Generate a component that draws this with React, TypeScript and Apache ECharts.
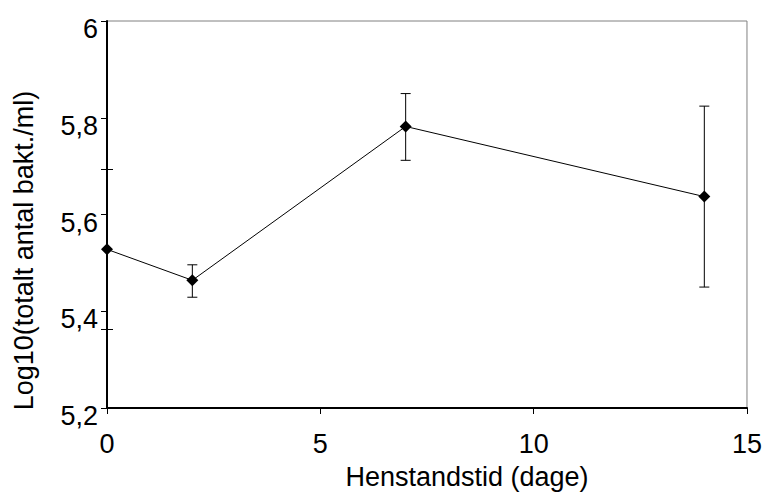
import React, { useEffect, useRef } from "react";
import * as echarts from "echarts";

// Storage time (days) and log10 total bacteria count per ml
const days = [0, 2, 7, 14];
const meanLog = [5.528, 5.464, 5.782, 5.637];
const upperLog = [5.528, 5.496, 5.85, 5.824];
const lowerLog = [5.528, 5.429, 5.712, 5.45];

const yTickLabels = [5.2, 5.4, 5.6, 5.8, 6];
const yExtraTicks = [5.362, 5.693];
const xTicks = [0, 5, 10, 15];

const FONT = "'Liberation Sans', Arial, sans-serif";
const FS = 27;

export default function App() {
  const ref = useRef<HTMLDivElement>(null);

  useEffect(() => {
    if (!ref.current) return;
    const chart = echarts.init(ref.current, undefined, { renderer: "svg" });

    const errorData = days.map((d, i) => [d, lowerLog[i], upperLog[i]]);

    chart.setOption({
      animation: false,
      backgroundColor: "#ffffff",
      grid: {
        left: 107,
        right: 8,
        top: 21,
        bottom: 89,
        show: true,
        borderColor: "#808080",
        borderWidth: 1,
      },
      xAxis: {
        type: "value",
        min: 0,
        max: 15,
        interval: 5,
        name: "Henstandstid (dage)",
        nameLocation: "middle",
        nameGap: 55,
        nameTextStyle: {
          fontFamily: FONT,
          fontSize: FS,
          color: "#000",
          padding: [0, 0, 0, 80],
        },
        axisLine: { show: true, lineStyle: { color: "#000", width: 2 } },
        axisTick: {
          show: true,
          inside: false,
          length: 6,
          lineStyle: { color: "#000", width: 1 },
          customValues: xTicks,
        },
        axisLabel: {
          fontFamily: FONT,
          fontSize: FS,
          color: "#000",
          margin: 22,
          customValues: xTicks,
        },
        splitLine: { show: false },
      },
      yAxis: [
        {
          type: "value",
          min: 5.2,
          max: 6,
          interval: 0.2,
          name: "Log10(totalt antal bakt./ml)",
          nameLocation: "middle",
          nameGap: 70,
          nameTextStyle: {
            fontFamily: FONT,
            fontSize: FS,
            color: "#000",
            padding: [0, 72, 0, 0],
          },
          axisLine: { show: true, lineStyle: { color: "#000", width: 2 } },
          axisTick: {
            show: true,
            inside: false,
            length: 6,
            lineStyle: { color: "#000", width: 1 },
            customValues: [...yTickLabels, ...yExtraTicks],
          },
          axisLabel: {
            fontFamily: FONT,
            fontSize: FS,
            color: "#000",
            margin: 9,
            verticalAlign: "top",
            lineHeight: 16,
            formatter: (v: number) =>
              Number.isInteger(v) ? String(v) : v.toFixed(1).replace(".", ","),
          },
          splitLine: { show: false },
        },
        {
          type: "value",
          min: 5.2,
          max: 6,
          position: "left",
          axisLine: { show: false },
          axisTick: {
            show: true,
            inside: true,
            length: 6,
            lineStyle: { color: "#000", width: 1 },
            customValues: yExtraTicks,
          },
          axisLabel: { show: false },
          splitLine: { show: false },
        },
      ],
      series: [
        {
          type: "custom",
          name: "errors",
          xAxisIndex: 0,
          yAxisIndex: 0,
          data: errorData,
          z: 2,
          renderItem: (params: any, api: any) => {
            const x = api.value(0);
            const lo = api.value(1);
            const hi = api.value(2);
            if (lo === hi) return null;
            const pLo = api.coord([x, lo]);
            const pHi = api.coord([x, hi]);
            const cap = 5;
            const style = { stroke: "#000", lineWidth: 1 };
            return {
              type: "group",
              children: [
                { type: "line", shape: { x1: pLo[0], y1: pLo[1], x2: pHi[0], y2: pHi[1] }, style },
                { type: "line", shape: { x1: pHi[0] - cap, y1: pHi[1], x2: pHi[0] + cap, y2: pHi[1] }, style },
                { type: "line", shape: { x1: pLo[0] - cap, y1: pLo[1], x2: pLo[0] + cap, y2: pLo[1] }, style },
              ],
            };
          },
        },
        {
          type: "line",
          name: "mean",
          xAxisIndex: 0,
          yAxisIndex: 0,
          data: days.map((d, i) => [d, meanLog[i]]),
          symbol: "diamond",
          symbolSize: 12,
          lineStyle: { color: "#000", width: 1 },
          itemStyle: { color: "#000" },
          z: 3,
        },
      ],
    });

    return () => chart.dispose();
  }, []);

  return <div ref={ref} style={{ width: 765, height: 497, position: "absolute", left: 0, top: 0 }} />;
}
